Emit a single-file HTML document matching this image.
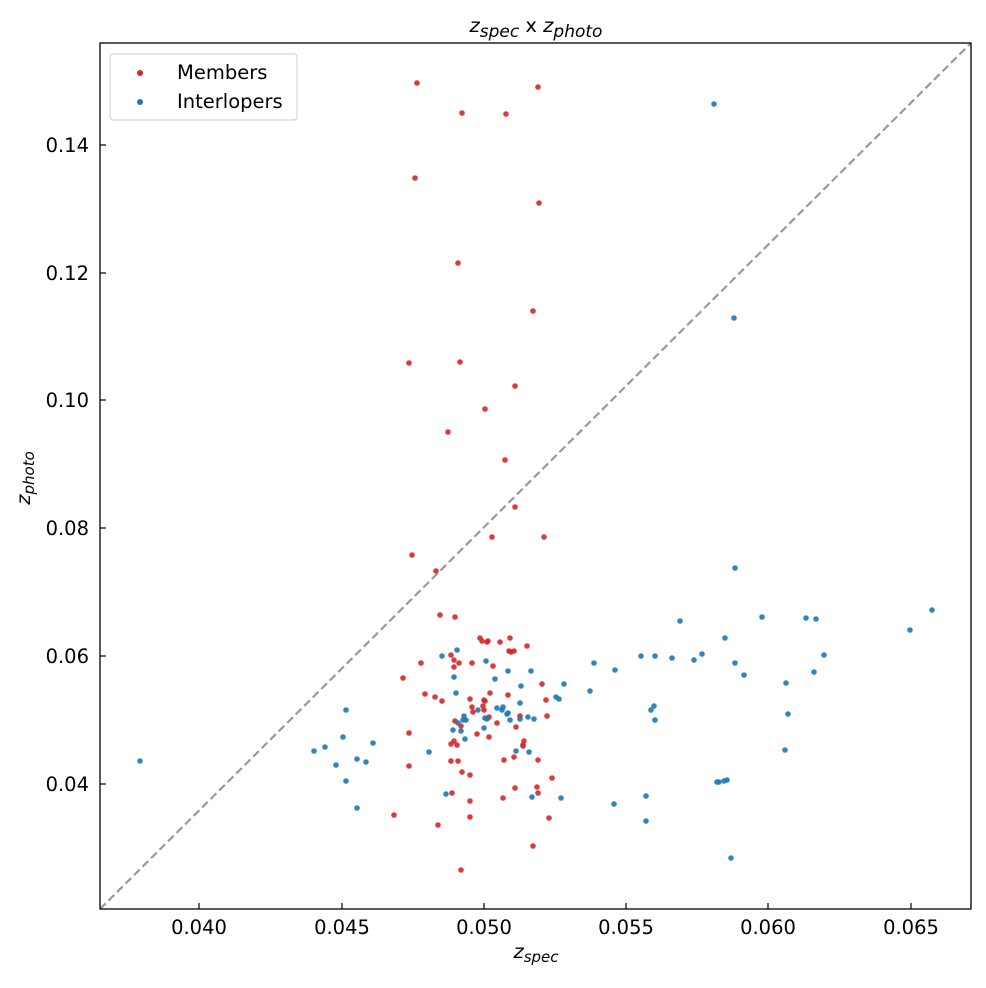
<!DOCTYPE html>
<html><head><meta charset="utf-8"><style>
body{margin:0;background:#fff;}
svg text{font-family:"DejaVu Sans","Liberation Sans",sans-serif;font-size:19.5px;fill:#000;}
</style></head><body>
<svg width="986" height="983" viewBox="0 0 986 983" xmlns="http://www.w3.org/2000/svg">
<rect width="986" height="983" fill="#fff"/>
<defs><clipPath id="c"><rect x="100" y="43" width="871" height="866"/></clipPath></defs>
<line x1="100" y1="909" x2="971" y2="43" stroke="#999" stroke-width="2.2" stroke-dasharray="8,4" clip-path="url(#c)"/>
<g fill="#d62728" fill-opacity="0.9" id="red"></g>
<g fill="#1f77b4" fill-opacity="0.9" id="blue"></g>
<rect x="100" y="43" width="871" height="866" fill="none" stroke="#000" stroke-width="1.3"/>
<g stroke="#000" stroke-width="1.2">
<line x1="199" y1="909" x2="199" y2="903"/><line x1="342" y1="909" x2="342" y2="903"/><line x1="484" y1="909" x2="484" y2="903"/><line x1="626" y1="909" x2="626" y2="903"/><line x1="768" y1="909" x2="768" y2="903"/><line x1="911" y1="909" x2="911" y2="903"/>
<line x1="100" y1="145" x2="106" y2="145"/><line x1="100" y1="273" x2="106" y2="273"/><line x1="100" y1="400" x2="106" y2="400"/><line x1="100" y1="528" x2="106" y2="528"/><line x1="100" y1="656" x2="106" y2="656"/><line x1="100" y1="784" x2="106" y2="784"/>
</g>
<g text-anchor="middle">
<text x="199" y="934">0.040</text><text x="342" y="934">0.045</text><text x="484" y="934">0.050</text><text x="626" y="934">0.055</text><text x="768" y="934">0.060</text><text x="911" y="934">0.065</text>
</g>
<g text-anchor="end">
<text x="89" y="152">0.14</text><text x="89" y="280">0.12</text><text x="89" y="407">0.10</text><text x="89" y="535">0.08</text><text x="89" y="663">0.06</text><text x="89" y="791">0.04</text>
</g>
<text x="536" y="32" text-anchor="middle" font-size="24"><tspan font-style="italic">z</tspan><tspan font-style="italic" font-size="17" dy="5">spec</tspan><tspan dy="-5"> x </tspan><tspan font-style="italic">z</tspan><tspan font-style="italic" font-size="17" dy="5">photo</tspan></text>
<text x="536" y="958" text-anchor="middle" font-size="21"><tspan font-style="italic">z</tspan><tspan font-style="italic" font-size="15" dy="4">spec</tspan></text>
<text transform="translate(30,478) rotate(-90)" text-anchor="middle" font-size="21"><tspan font-style="italic">z</tspan><tspan font-style="italic" font-size="15" dy="4">photo</tspan></text>
<rect x="110" y="54" width="187" height="66" rx="3" fill="#fff" fill-opacity="0.8" stroke="#ccc" stroke-width="1"/>
<circle cx="140" cy="73" r="3" fill="#d62728"/><text x="177" y="79" font-size="20">Members</text>
<circle cx="140" cy="102" r="3" fill="#1f77b4"/><text x="177" y="108" font-size="20">Interlopers</text>
</svg>
<script>
var R=[[417,83],[538,87],[462,113],[506,114],[415,178],[539,203],[458,263],[533,311],[409,363],[460,362],[515,386],[485,409],[448,432],[505,460],[515,507],[544,537],[412,555],[436,571],[492,537],[440,615],[455,617],[480,638],[482,641],[488,641],[527,646],[514,651],[510,638],[500,642],[487,642],[451,655],[454,660],[459,663],[472,663],[493,666],[421,663],[509,651],[511,652],[454,667],[403,678],[542,684],[425,694],[435,697],[442,701],[470,699],[485,701],[483,706],[490,693],[546,700],[508,695],[472,707],[473,712],[484,710],[489,717],[547,716],[520,716],[455,721],[497,723],[461,726],[516,727],[477,734],[409,733],[489,737],[454,741],[451,744],[524,741],[523,745],[457,745],[523,746],[514,757],[504,760],[538,760],[451,761],[458,761],[409,766],[462,772],[470,775],[552,778],[537,787],[515,788],[452,793],[538,793],[470,801],[503,798],[394,815],[470,817],[549,818],[438,825],[533,846],[461,870],[484,700]];
var B=[[714,104],[734,318],[735,568],[762,617],[680,621],[932,610],[725,638],[806,618],[816,619],[814,672],[824,655],[702,654],[694,660],[672,658],[655,656],[641,656],[594,663],[615,670],[457,650],[442,656],[486,661],[508,671],[531,671],[564,684],[454,677],[495,679],[735,663],[744,675],[559,699],[910,630],[786,683],[788,714],[785,750],[590,691],[497,708],[521,686],[456,693],[556,697],[520,703],[503,707],[508,713],[478,710],[464,716],[463,720],[520,719],[528,717],[534,719],[346,710],[507,714],[502,710],[485,718],[487,719],[458,723],[466,720],[510,720],[654,706],[651,710],[655,720],[484,728],[461,731],[343,737],[373,743],[453,730],[465,739],[325,747],[314,751],[529,752],[429,752],[357,759],[366,762],[336,765],[346,781],[140,761],[561,798],[446,794],[532,797],[646,796],[719,782],[717,782],[724,781],[727,780],[357,808],[614,804],[646,821],[731,858],[516,751]];
function add(g,a){var e=document.getElementById(g);a.forEach(function(p){var c=document.createElementNS("http://www.w3.org/2000/svg","circle");c.setAttribute("cx",p[0]);c.setAttribute("cy",p[1]);c.setAttribute("r",2.8);e.appendChild(c);});}
add("red",R);add("blue",B);
</script>
</body></html>
